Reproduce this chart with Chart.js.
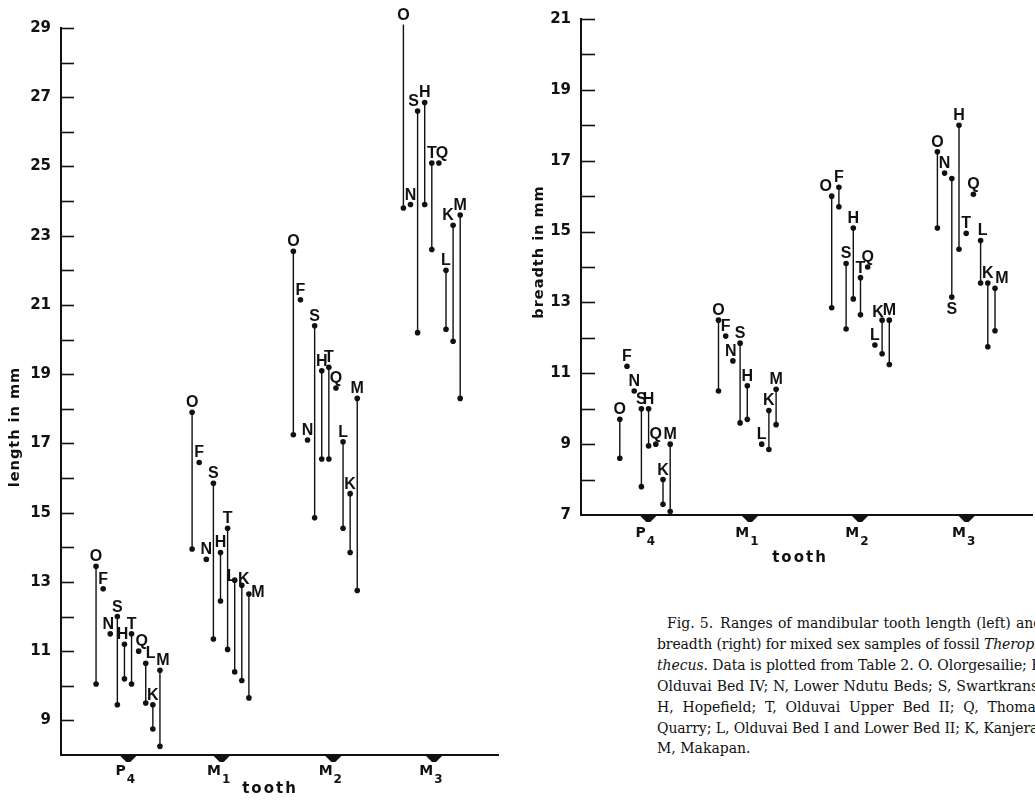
<!DOCTYPE html>
<html>
<head>
<meta charset="utf-8">
<script src="https://cdn.jsdelivr.net/npm/chart.js@4.4.1/dist/chart.umd.min.js"></script>
<style>
  html, body { margin: 0; padding: 0; background: #fff; width: 1035px; height: 807px; overflow: hidden; position: relative; }
  #lenChart { position: absolute; left: 0; top: 0; }
  #brChart { position: absolute; left: 520px; top: 0; }
  #caption { position: absolute; left: 657px; top: 613px; font-family: "DejaVu Serif", serif; font-size: 14px; line-height: 20.9px; color: #111; }
  #caption .ln { white-space: nowrap; }
  #caption .first { padding-left: 10px; }
</style>
</head>
<body>
<canvas id="lenChart" width="510" height="807"></canvas>
<canvas id="brChart" width="515" height="600"></canvas>
<div id="caption">
  <div class="ln first"><span class="fit" data-w="376">Fig. 5.&ensp;Ranges of mandibular tooth length (left) and</span></div>
  <div class="ln"><span class="fit" data-w="386">breadth (right) for mixed sex samples of fossil <i>Theropi-</i></span></div>
  <div class="ln"><span class="fit" data-w="386"><i>thecus.</i> Data is plotted from Table 2. O. Olorgesailie; F,</span></div>
  <div class="ln"><span class="fit" data-w="386">Olduvai Bed IV; N, Lower Ndutu Beds; S, Swartkrans;</span></div>
  <div class="ln"><span class="fit" data-w="386">H, Hopefield; T, Olduvai Upper Bed II; Q, Thomas</span></div>
  <div class="ln"><span class="fit" data-w="386">Quarry; L, Olduvai Bed I and Lower Bed II; K, Kanjera;</span></div>
  <div class="ln"><span>M, Makapan.</span></div>
</div>
<script>
// ---------------- DATA ----------------
const sites = ['O', 'F', 'N', 'S', 'H', 'T', 'Q', 'L', 'K', 'M'];
const teeth = ['P4', 'M1', 'M2', 'M3'];
const toothLetters = ['P', 'M', 'M', 'M'];
const toothSubs = ['4', '1', '2', '3'];

// tooth length in mm: [min, max] per tooth (P4, M1, M2, M3); single value = one specimen; null = no data
const lenO = [[10.05, 13.45], [13.95, 17.9], [17.25, 22.55], [23.8, 29.1]];
const lenF = [12.8, 16.45, 21.15, null];
const lenN = [11.5, 13.65, 17.1, 23.9];
const lenS = [[9.45, 12.0], [11.35, 15.85], [14.85, 20.4], [20.2, 26.6]];
const lenH = [[10.2, 11.2], [12.45, 13.85], [16.55, 19.1], [23.9, 26.85]];
const lenT = [[10.05, 11.5], [11.05, 14.55], [16.55, 19.2], [22.6, 25.1]];
const lenQ = [11.0, null, 18.6, 25.1];
const lenL = [[9.5, 10.65], [10.4, 13.05], [14.55, 17.05], [20.3, 22.0]];
const lenK = [[8.75, 9.45], [10.15, 12.9], [13.85, 15.55], [19.95, 23.3]];
const lenM = [[8.25, 10.45], [9.65, 12.65], [12.75, 18.3], [18.3, 23.6]];

// tooth breadth in mm
const brO = [[8.6, 9.7], [10.5, 12.5], [12.85, 16.0], [15.1, 17.25]];
const brF = [11.2, 12.05, [15.7, 16.25], null];
const brN = [10.5, 11.35, null, 16.65];
const brS = [[7.8, 10.0], [9.6, 11.85], [12.25, 14.1], [13.15, 16.5]];
const brH = [[8.95, 10.0], [9.7, 10.65], [13.1, 15.1], [14.5, 18.0]];
const brT = [null, null, [12.65, 13.7], 14.95];
const brQ = [9.0, null, 14.0, 16.05];
const brL = [null, 9.0, 11.8, [13.55, 14.75]];
const brK = [[7.3, 8.0], [8.85, 9.95], [11.55, 12.5], [11.75, 13.55]];
const brM = [[7.1, 9.0], [9.55, 10.55], [11.25, 12.5], [12.2, 13.4]];

const lengthTicks = [9, 11, 13, 15, 17, 19, 21, 23, 25, 27, 29];
const breadthTicks = [7, 9, 11, 13, 15, 17, 19, 21];

// ---------------- LAYOUT ----------------
const INK = '#111';
const lenTable = { O: lenO, F: lenF, N: lenN, S: lenS, H: lenH, T: lenT, Q: lenQ, L: lenL, K: lenK, M: lenM };
const brTable = { O: brO, F: brF, N: brN, S: brS, H: brH, T: brT, Q: brQ, L: brL, K: brK, M: brM };

// justify caption lines to their column width
document.querySelectorAll('#caption .fit').forEach(sp => {
  const target = parseFloat(sp.dataset.w);
  const natural = sp.getBoundingClientRect().width;
  const spaces = (sp.textContent.match(/\s/g) || []).length;
  const chars = sp.textContent.length;
  if (natural < target) {
    sp.style.wordSpacing = ((target - natural) / Math.max(spaces, 1)) + 'px';
  } else {
    sp.style.letterSpacing = ((target - natural) / Math.max(chars, 1)) + 'px';
  }
});

function buildDatasets(table, centers, spacing, reserved) {
  const ds = [];
  teeth.forEach((t, ti) => {
    const slots = sites.filter(s => table[s][ti] != null || (reserved[ti] || []).includes(s));
    const n = slots.length;
    slots.forEach((s, k) => {
      const v = table[s][ti];
      if (v == null) return;
      const x = centers[ti] + (k - (n - 1) / 2) * spacing;
      const lo = Array.isArray(v) ? v[0] : v;
      const hi = Array.isArray(v) ? v[1] : v;
      const data = lo === hi ? [{ x, y: lo }] : [{ x, y: lo }, { x, y: hi }];
      ds.push({
        data, site: s, tooth: ti, showLine: true, clip: false,
        borderColor: INK, borderWidth: 1.4,
        pointRadius: 2.8, pointHoverRadius: 2.8,
        pointBackgroundColor: INK, pointBorderWidth: 0
      });
    });
  });
  return ds;
}

const siteLetters = {
  id: 'siteLetters',
  afterDatasetsDraw(chart, args, opts) {
    const { ctx } = chart;
    ctx.save();
    ctx.fillStyle = INK;
    ctx.font = 'bold 16px "Liberation Sans", Arial, sans-serif';
    ctx.textAlign = 'center';
    ctx.textBaseline = 'alphabetic';
    chart.data.datasets.forEach((d, i) => {
      const meta = chart.getDatasetMeta(i);
      const pts = meta.data;
      let top = pts[0], bot = pts[0];
      pts.forEach(p => { if (p.y < top.y) top = p; if (p.y > bot.y) bot = p; });
      const nudge = opts.nudge[d.tooth + '|' + d.site] || [0, 0, false];
      if (nudge[2]) {
        ctx.fillText(d.site, bot.x + nudge[0], bot.y + 17 + nudge[1]);
      } else {
        ctx.fillText(d.site, top.x + nudge[0], top.y - 5 + nudge[1]);
      }
    });
    ctx.restore();
  }
};

const decor = {
  id: 'decor',
  afterDraw(chart, args, o) {
    const { ctx, chartArea, scales: { x, y } } = chart;
    ctx.save();
    ctx.fillStyle = INK;
    ctx.strokeStyle = INK;
    // inward tick marks
    ctx.lineWidth = 1.6;
    for (let v = y.min + 1; v <= y.max; v++) {
      const py = Math.round(y.getPixelForValue(v)) + 0.5;
      ctx.beginPath();
      ctx.moveTo(chartArea.left, py);
      ctx.lineTo(chartArea.left + o.tickLen, py);
      ctx.stroke();
    }
    // category markers and labels
    o.tickPos.forEach((p, i) => {
      const px = x.getPixelForValue(p);
      const by = chartArea.bottom;
      ctx.beginPath();
      ctx.moveTo(px - 9, by);
      ctx.lineTo(px + 9, by);
      ctx.lineTo(px + 2, by + 7);
      ctx.lineTo(px - 2, by + 7);
      ctx.closePath();
      ctx.fill();
      ctx.font = 'bold 14px "DejaVu Sans", sans-serif';
      const w1 = ctx.measureText(toothLetters[i]).width;
      ctx.font = 'bold 12px "DejaVu Sans", sans-serif';
      const w2 = ctx.measureText(toothSubs[i]).width;
      const sx = px - 3 - (w1 + w2 + 1) / 2;
      ctx.textAlign = 'left';
      ctx.font = 'bold 14px "DejaVu Sans", sans-serif';
      ctx.fillText(toothLetters[i], sx, by + o.catBase);
      ctx.font = 'bold 12px "DejaVu Sans", sans-serif';
      ctx.fillText(toothSubs[i], sx + w1 + 1, by + o.catBase + 8);
    });
    // x title
    ctx.font = 'bold 15px "DejaVu Sans", sans-serif';
    ctx.letterSpacing = '2px';
    ctx.textAlign = 'center';
    ctx.fillText('tooth', o.xTitle[0], o.xTitle[1]);
    // y title
    ctx.letterSpacing = '1px';
    ctx.font = 'bold 14.5px "DejaVu Sans", sans-serif';
    ctx.translate(o.yTitle[0], o.yTitle[1]);
    ctx.rotate(-Math.PI / 2);
    ctx.textBaseline = 'middle';
    ctx.fillText(o.yTitleText, 0, 0);
    ctx.restore();
  }
};

function makeChart(id, datasets, yMin, yMax, tickVals, xMax, pad, xAxisH, decorOpts, nudge) {
  return new Chart(document.getElementById(id), {
    type: 'scatter',
    data: { datasets },
    plugins: [siteLetters, decor],
    options: {
      responsive: false,
      animation: false,
      events: [],
      layout: { padding: pad },
      plugins: {
        legend: { display: false },
        tooltip: { enabled: false },
        siteLetters: { nudge },
        decor: decorOpts
      },
      scales: {
        x: {
          type: 'linear', min: 0, max: xMax,
          ticks: { display: false },
          grid: { display: false, drawTicks: false },
          border: { display: true, color: INK, width: 2 },
          afterFit: s => { s.height = xAxisH; }
        },
        y: {
          type: 'linear', min: yMin, max: yMax,
          afterBuildTicks: s => { s.ticks = tickVals.map(v => ({ value: v })); },
          ticks: {
            autoSkip: false, color: INK, padding: 10,
            font: { family: '"DejaVu Sans", sans-serif', weight: 'bold', size: 15 }
          },
          grid: { display: false, drawOnChartArea: false, drawTicks: false },
          border: { display: true, color: INK, width: 2 },
          afterFit: s => { s.width = 61; }
        }
      }
    }
  });
}

// left panel: length
makeChart('lenChart',
  buildDatasets(lenTable, [67, 159.5, 264.3, 370.8], 7.1, {}),
  8, 29, lengthTicks, 437,
  { top: 28, right: 12, left: 0, bottom: 0 }, 52,
  { tickLen: 13, tickPos: [67.3, 160.7, 272.3, 373], catBase: 20, xTitle: [270, 793], yTitle: [15, 427], yTitleText: 'length in mm' },
  {
    '0|N': [-2, 0], '0|H': [-2, 0], '0|Q': [3, 0], '0|L': [5, 0], '0|M': [3, 0],
    '1|L': [-3, 6], '1|K': [2, 4], '1|M': [9, 8],
    '3|S': [-4, 0], '3|K': [-5, 0], '3|Q': [3, 0]
  });

// right panel: breadth
makeChart('brChart',
  buildDatasets(brTable, [64, 166.3, 279.5, 385.2], 7.2, { 1: ['T'] }),
  7, 21, breadthTicks, 451,
  { top: 15, right: 3, left: 0, bottom: 0 }, 85,
  { tickLen: 14, tickPos: [67.3, 169, 279, 385.7], catBase: 22, xTitle: [280, 562], yTitle: [19, 252], yTitleText: 'breadth in mm' },
  {
    '1|N': [-2, 0], '2|O': [-6, 0], '2|K': [-4, 2], '3|M': [7, 0], '3|S': [0, 0, true], '3|L': [2, 0]
  });
</script>
</body>
</html>
